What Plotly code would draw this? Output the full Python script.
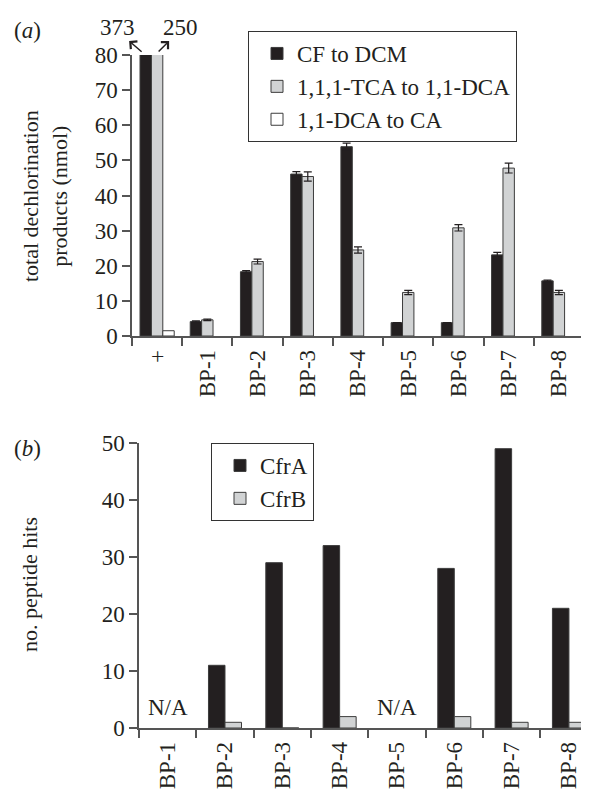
import plotly.graph_objects as go

# ---------------- data ----------------
categories_a = ["+", "BP-1", "BP-2", "BP-3", "BP-4", "BP-5", "BP-6", "BP-7", "BP-8"]
cf_to_dcm = [373, 4.1, 18.3, 46.1, 53.9, 3.8, 3.8, 23.1, 15.7]
cf_to_dcm_err = [0, 0.2, 0.3, 0.7, 1.0, 0, 0, 0.7, 0.2]
tca_to_dca = [250, 4.6, 21.2, 45.4, 24.5, 12.4, 30.8, 47.8, 12.4]
tca_to_dca_err = [0, 0.2, 0.7, 1.3, 0.9, 0.6, 0.9, 1.4, 0.6]
dca_to_ca = [1.5, None, None, None, None, None, None, None, None]

categories_b = ["BP-1", "BP-2", "BP-3", "BP-4", "BP-5", "BP-6", "BP-7", "BP-8"]
cfrA = [None, 11, 29, 32, None, 28, 49, 21]
cfrB = [None, 1, 0, 2, None, 2, 1, 1]
na_categories = ["BP-1", "BP-5"]

ytick_a = [0, 10, 20, 30, 40, 50, 60, 70, 80]
ytick_b = [0, 10, 20, 30, 40, 50]

# ---------------- style ----------------
FONT = "Liberation Serif"
FS = 23
TXT = "#231f20"
BLACK = "#231f20"
GREY = "#d1d3d4"
OUTLINE = "#3c3c3c"
AXC = "#555555"

PAGE_MARGIN = 8          # default body margin of the html page
W, H = 589 - PAGE_MARGIN, 790 - PAGE_MARGIN


def px_x(p):
    return (p - PAGE_MARGIN) / W


def px_y(p):
    return 1 - (p - PAGE_MARGIN) / H


bw_a = 0.227
bw_b = 0.288

fig = go.Figure()

err_style = dict(type="data", color=TXT, thickness=1.2, width=4)

fig.add_trace(go.Bar(
    x=categories_a, y=cf_to_dcm, name="CF to DCM",
    marker=dict(color=BLACK, line=dict(color=OUTLINE, width=1)),
    error_y=dict(array=cf_to_dcm_err, **err_style),
    width=bw_a, offset=-1.5 * bw_a, xaxis="x", yaxis="y",
    legend="legend", legendgroup="a1",
))
fig.add_trace(go.Bar(
    x=categories_a, y=tca_to_dca, name="1,1,1-TCA to 1,1-DCA",
    marker=dict(color=GREY, line=dict(color=OUTLINE, width=1)),
    error_y=dict(array=tca_to_dca_err, **err_style),
    width=bw_a, offset=-0.5 * bw_a, xaxis="x", yaxis="y",
    legend="legend", legendgroup="a2",
))
fig.add_trace(go.Bar(
    x=categories_a, y=dca_to_ca, name="1,1-DCA to CA",
    marker=dict(color="white", line=dict(color=OUTLINE, width=1)),
    width=bw_a, offset=0.5 * bw_a, xaxis="x", yaxis="y",
    legend="legend", legendgroup="a3",
))

fig.add_trace(go.Bar(
    x=categories_b, y=cfrA, name="CfrA",
    marker=dict(color=BLACK, line=dict(color=OUTLINE, width=1)),
    width=bw_b, offset=-bw_b, xaxis="x2", yaxis="y2",
    legend="legend2", legendgroup="b1",
))
fig.add_trace(go.Bar(
    x=categories_b, y=cfrB, name="CfrB",
    marker=dict(color=GREY, line=dict(color=OUTLINE, width=1)),
    width=bw_b, offset=0, xaxis="x2", yaxis="y2",
    legend="legend2", legendgroup="b2",
))

axis_common = dict(
    showline=True, linecolor=AXC, linewidth=1.5,
    ticks="outside", ticklen=8, tickcolor=AXC, tickwidth=1.5,
    showgrid=False, zeroline=False, automargin=False,
    tickfont=dict(family=FONT, size=FS, color=TXT),
)

fig.update_layout(
    width=W, height=H,
    margin=dict(l=0, r=0, t=0, b=0),
    paper_bgcolor="white", plot_bgcolor="white",
    barmode="group",
    font=dict(family=FONT, size=FS, color=TXT),
    xaxis=dict(domain=[px_x(132), px_x(584)], anchor="y", type="category",
               categoryorder="array", categoryarray=categories_a,
               range=[-0.5, len(categories_a) - 0.5],
               tickson="boundaries", tickangle=-90, ticklabelstandoff=3,
               **axis_common),
    yaxis=dict(domain=[px_y(336), px_y(55)], anchor="x", range=[0, 80],
               tickvals=ytick_a, **axis_common),
    xaxis2=dict(domain=[px_x(139), 1.0], anchor="y2", type="category",
                categoryorder="array", categoryarray=categories_b,
                range=[-0.5, 7.35],
                tickson="boundaries", tickangle=-90, ticklabelstandoff=3,
                **axis_common),
    yaxis2=dict(domain=[px_y(728), px_y(443)], anchor="x2", range=[0, 50],
                tickvals=ytick_b, **axis_common),
    legend=dict(x=px_x(248), y=px_y(31), xanchor="left", yanchor="top",
                bordercolor="#333333", borderwidth=1, bgcolor="white",
                font=dict(family=FONT, size=FS, color=TXT),
                tracegroupgap=0, indentation=8),
    legend2=dict(x=px_x(211), y=px_y(443), xanchor="left", yanchor="top",
                 bordercolor="#333333", borderwidth=1, bgcolor="white",
                 font=dict(family=FONT, size=FS, color=TXT),
                 tracegroupgap=0, indentation=8),
    showlegend=True,
)

txt_font = dict(family=FONT, size=FS, color=TXT)
ann = []
# panel labels
ann.append(dict(text="(<i>a</i>)", x=px_x(28), y=px_y(30), xref="paper", yref="paper",
                xanchor="center", yanchor="middle", showarrow=False, font=txt_font))
ann.append(dict(text="(<i>b</i>)", x=px_x(28), y=px_y(448), xref="paper", yref="paper",
                xanchor="center", yanchor="middle", showarrow=False, font=txt_font))
# y titles
ann.append(dict(text="total dechlorination<br>products (nmol)", x=px_x(45), y=px_y(196),
                xref="paper", yref="paper", xanchor="center", yanchor="middle",
                textangle=-90, showarrow=False, font=dict(family=FONT, size=22, color=TXT)))
ann.append(dict(text="no. peptide hits", x=px_x(29), y=px_y(585),
                xref="paper", yref="paper", xanchor="center", yanchor="middle",
                textangle=-90, showarrow=False, font=dict(family=FONT, size=22, color=TXT)))
# off-scale values for the positive control
ann.append(dict(text=f"{cf_to_dcm[0]}", x=categories_a[0], y=80, xref="x", yref="y",
                xshift=-40, yshift=27, showarrow=False, font=txt_font))
ann.append(dict(text=f"{tca_to_dca[0]}", x=categories_a[0], y=80, xref="x", yref="y",
                xshift=23, yshift=27, showarrow=False, font=txt_font))
ann.append(dict(text="", x=categories_a[0], y=80, xref="x", yref="y",
                xshift=-28, yshift=14, showarrow=True, ax=14, ay=12,
                arrowhead=4, arrowsize=1.3, arrowwidth=1.5, arrowcolor=TXT))
ann.append(dict(text="", x=categories_a[0], y=80, xref="x", yref="y",
                xshift=12, yshift=14, showarrow=True, ax=-12, ay=12,
                arrowhead=4, arrowsize=1.3, arrowwidth=1.5, arrowcolor=TXT))
# N/A labels
for c in na_categories:
    ann.append(dict(text="N/A", x=c, y=0, xref="x2", yref="y2", yshift=21,
                    xanchor="center", yanchor="middle",
                    showarrow=False, font=txt_font))

fig.update_layout(annotations=ann)

fig.write_html("out.html")
